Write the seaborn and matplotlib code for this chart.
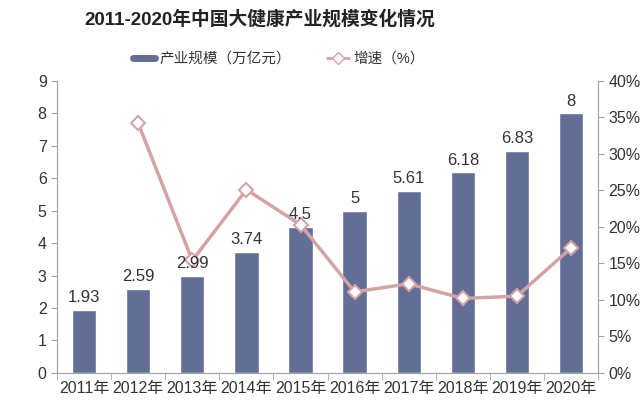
import numpy as np
import pandas as pd
import seaborn as sns
import matplotlib.pyplot as plt
from matplotlib.ticker import PercentFormatter, FixedLocator
from matplotlib.lines import Line2D

# Data
years = ["2011年", "2012年", "2013年", "2014年", "2015年",
         "2016年", "2017年", "2018年", "2019年", "2020年"]
scale = [1.93, 2.59, 2.99, 3.74, 4.5, 5, 5.61, 6.18, 6.83, 8]
scale_labels = ["1.93", "2.59", "2.99", "3.74", "4.5", "5", "5.61", "6.18", "6.83", "8"]
growth = [np.nan, 34.2, 15.4, 25.1, 20.3, 11.1, 12.2, 10.2, 10.5, 17.1]

df = pd.DataFrame({"year": years, "scale": scale, "growth": growth})
df["pos"] = np.arange(len(df))

sns.set_style("white")
plt.rcParams["font.family"] = ["Liberation Sans", "Noto Sans CJK SC", "DejaVu Sans"]

bar_color = "#636E96"
line_color = "#D4A3A3"
axis_color = "#A6A6A6"
text_color = "#333333"

fig = plt.figure(figsize=(6.41, 4.07), dpi=100)
ax = fig.add_axes([0.089, 0.084, 0.844, 0.717])

sns.barplot(data=df, x="year", y="scale", color=bar_color, width=0.45,
            saturation=1, ax=ax)
ax.set_ylim(0, 9)
ax.set_xlim(-0.5, len(years) - 0.5)
ax.set_yticks(range(0, 10))

ax2 = ax.twinx()
sns.lineplot(data=df, x="pos", y="growth", ax=ax2, color=line_color, linewidth=2.5,
             marker="D", markersize=7, markerfacecolor="white",
             markeredgecolor=line_color, markeredgewidth=1.5)
ax2.set_ylim(0, 40)
ax2.set_yticks(range(0, 45, 5))
ax2.yaxis.set_major_formatter(PercentFormatter(decimals=0))
ax2.set_xlim(-0.5, len(years) - 0.5)

# value labels on top of the line
for i, (v, lab) in enumerate(zip(scale, scale_labels)):
    ax2.text(i, v + 0.15, lab, ha="center", va="bottom", fontsize=12,
             color=text_color, transform=ax.transData, zorder=10)

for a in (ax, ax2):
    a.set_xlabel("")
    a.set_ylabel("")
    for s in a.spines.values():
        s.set_color(axis_color)
    a.spines["top"].set_visible(False)
    a.tick_params(colors=text_color, labelsize=11.5, length=4, color=axis_color)

ax.spines["right"].set_visible(True)
ax.tick_params(axis="x", length=0, pad=6)
ax.xaxis.set_minor_locator(FixedLocator(np.arange(-0.5, len(years), 1)))
ax.tick_params(axis="x", which="minor", length=5, color=axis_color, bottom=True)
ax.tick_params(axis="y", length=4, left=True, direction="out")
ax2.tick_params(axis="y", right=True, direction="out")

fig.suptitle("2011-2020年中国大健康产业规模变化情况", x=0.406, y=0.975, fontsize=13.5,
             fontweight="bold", color="#222222")

handles = [
    Line2D([0], [0], color=bar_color, linewidth=5),
    Line2D([0], [0], color=line_color, linewidth=2, marker="D", markersize=6,
           markerfacecolor="white", markeredgecolor=line_color),
]
fig.legend(handles, ["产业规模（万亿元）", "增速（%）"], loc="center",
           bbox_to_anchor=(0.435, 0.855), ncol=2, frameon=False, fontsize=10.5,
           handlelength=1.5, handletextpad=0.3, columnspacing=2.5,
           labelcolor=text_color)

fig.savefig("out.png", dpi=100)
